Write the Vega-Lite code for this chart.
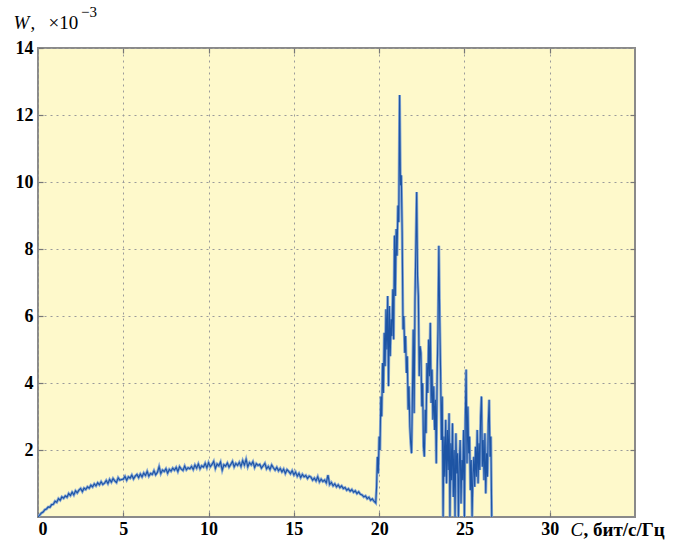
{
  "$schema": "https://vega.github.io/schema/vega-lite/v6.json",
  "width": 597,
  "height": 469,
  "autosize": {"type": "none"},
  "padding": {"left": 38, "top": 48, "right": 41, "bottom": 25},
  "background": "#ffffff",
  "title": {
    "text": "−3",
    "anchor": "start",
    "frame": "group",
    "orient": "top",
    "font": "Liberation Serif",
    "fontSize": 15,
    "fontWeight": "normal",
    "color": "#000000",
    "baseline": "alphabetic",
    "offset": 0,
    "dx": 43,
    "dy": 19
  },
  "config": {
    "view": {"stroke": "#8a8a8a", "strokeWidth": 2, "fill": "#fef9cb"},
    "axis": {
      "domain": false,
      "ticks": true,
      "tickSize": -5,
      "tickColor": "#777777",
      "tickWidth": 1.2,
      "gridColor": "#9a9a9a",
      "gridDash": [2, 4],
      "gridWidth": 1,
      "labelFont": "Liberation Serif",
      "labelFontWeight": "bold",
      "labelFontSize": 18,
      "labelColor": "#000000",
      "titleFont": "Liberation Serif",
      "titleFontSize": 19,
      "titleFontWeight": "normal",
      "titleColor": "#000000"
    }
  },
  "data": {"values": [
    {"C":0,"W":0},{"C":0.1,"W":0.06},{"C":0.2,"W":0.12},{"C":0.3,"W":0.15},{"C":0.4,"W":0.22},{"C":0.5,"W":0.24},{"C":0.6,"W":0.3},{"C":0.7,"W":0.29},{"C":0.8,"W":0.37},{"C":0.9,"W":0.38},
    {"C":1,"W":0.47},{"C":1.1,"W":0.44},{"C":1.2,"W":0.55},{"C":1.3,"W":0.5},{"C":1.4,"W":0.6},{"C":1.5,"W":0.56},{"C":1.6,"W":0.63},{"C":1.7,"W":0.59},{"C":1.8,"W":0.7},{"C":1.9,"W":0.64},
    {"C":2,"W":0.74},{"C":2.1,"W":0.66},{"C":2.2,"W":0.78},{"C":2.3,"W":0.72},{"C":2.4,"W":0.8},{"C":2.5,"W":0.85},{"C":2.6,"W":0.76},{"C":2.7,"W":0.86},{"C":2.8,"W":0.82},{"C":2.9,"W":0.9},
    {"C":3,"W":0.86},{"C":3.1,"W":0.95},{"C":3.2,"W":0.9},{"C":3.3,"W":0.99},{"C":3.4,"W":0.93},{"C":3.5,"W":1.02},{"C":3.6,"W":0.96},{"C":3.7,"W":1.05},{"C":3.8,"W":0.97},{"C":3.9,"W":1.01},
    {"C":4,"W":1.09},{"C":4.1,"W":1.0},{"C":4.2,"W":1.12},{"C":4.3,"W":1.04},{"C":4.4,"W":1.15},{"C":4.5,"W":1.08},{"C":4.6,"W":1.03},{"C":4.7,"W":1.17},{"C":4.8,"W":1.1},{"C":4.9,"W":1.12},
    {"C":5,"W":1.13},{"C":5.1,"W":1.21},{"C":5.2,"W":1.1},{"C":5.3,"W":1.2},{"C":5.4,"W":1.16},{"C":5.5,"W":1.25},{"C":5.6,"W":1.14},{"C":5.7,"W":1.22},{"C":5.8,"W":1.27},{"C":5.9,"W":1.18},
    {"C":6,"W":1.28},{"C":6.1,"W":1.2},{"C":6.2,"W":1.31},{"C":6.3,"W":1.24},{"C":6.4,"W":1.36},{"C":6.5,"W":1.22},{"C":6.6,"W":1.3},{"C":6.7,"W":1.27},{"C":6.8,"W":1.38},{"C":6.9,"W":1.26},
    {"C":7,"W":1.33},{"C":7.1,"W":1.5},{"C":7.2,"W":1.3},{"C":7.3,"W":1.4},{"C":7.4,"W":1.36},{"C":7.5,"W":1.44},{"C":7.6,"W":1.31},{"C":7.7,"W":1.42},{"C":7.8,"W":1.37},{"C":7.9,"W":1.46},
    {"C":8,"W":1.4},{"C":8.1,"W":1.48},{"C":8.2,"W":1.36},{"C":8.3,"W":1.5},{"C":8.4,"W":1.43},{"C":8.5,"W":1.39},{"C":8.6,"W":1.52},{"C":8.7,"W":1.41},{"C":8.8,"W":1.47},{"C":8.9,"W":1.44},
    {"C":9,"W":1.51},{"C":9.1,"W":1.42},{"C":9.2,"W":1.55},{"C":9.3,"W":1.46},{"C":9.4,"W":1.58},{"C":9.5,"W":1.44},{"C":9.6,"W":1.53},{"C":9.7,"W":1.49},{"C":9.8,"W":1.6},{"C":9.9,"W":1.47},
    {"C":10,"W":1.62},{"C":10.1,"W":1.5},{"C":10.2,"W":1.57},{"C":10.3,"W":1.66},{"C":10.4,"W":1.45},{"C":10.5,"W":1.58},{"C":10.6,"W":1.53},{"C":10.7,"W":1.64},{"C":10.8,"W":1.4},{"C":10.9,"W":1.56},
    {"C":11,"W":1.52},{"C":11.1,"W":1.61},{"C":11.2,"W":1.49},{"C":11.3,"W":1.57},{"C":11.4,"W":1.66},{"C":11.5,"W":1.5},{"C":11.6,"W":1.6},{"C":11.7,"W":1.54},{"C":11.8,"W":1.63},{"C":11.9,"W":1.51},
    {"C":12,"W":1.68},{"C":12.1,"W":1.55},{"C":12.2,"W":1.72},{"C":12.3,"W":1.5},{"C":12.4,"W":1.62},{"C":12.5,"W":1.56},{"C":12.6,"W":1.65},{"C":12.7,"W":1.48},{"C":12.8,"W":1.59},{"C":12.9,"W":1.54},
    {"C":13,"W":1.57},{"C":13.1,"W":1.46},{"C":13.2,"W":1.53},{"C":13.3,"W":1.6},{"C":13.4,"W":1.44},{"C":13.5,"W":1.51},{"C":13.6,"W":1.42},{"C":13.7,"W":1.55},{"C":13.8,"W":1.47},{"C":13.9,"W":1.4},
    {"C":14,"W":1.48},{"C":14.1,"W":1.38},{"C":14.2,"W":1.45},{"C":14.3,"W":1.35},{"C":14.4,"W":1.43},{"C":14.5,"W":1.3},{"C":14.6,"W":1.41},{"C":14.7,"W":1.36},{"C":14.8,"W":1.29},{"C":14.9,"W":1.38},
    {"C":15,"W":1.26},{"C":15.1,"W":1.34},{"C":15.2,"W":1.22},{"C":15.3,"W":1.3},{"C":15.4,"W":1.18},{"C":15.5,"W":1.27},{"C":15.6,"W":1.2},{"C":15.7,"W":1.24},{"C":15.8,"W":1.15},{"C":15.9,"W":1.22},
    {"C":16,"W":1.19},{"C":16.1,"W":1.1},{"C":16.2,"W":1.16},{"C":16.3,"W":1.08},{"C":16.4,"W":1.2},{"C":16.5,"W":1.05},{"C":16.6,"W":1.13},{"C":16.7,"W":1.06},{"C":16.8,"W":1.1},{"C":16.9,"W":1.02},
    {"C":17,"W":1.25},{"C":17.1,"W":0.97},{"C":17.2,"W":1.03},{"C":17.3,"W":0.93},{"C":17.4,"W":0.99},{"C":17.5,"W":0.9},{"C":17.6,"W":0.96},{"C":17.7,"W":0.88},{"C":17.8,"W":0.93},{"C":17.9,"W":0.85},
    {"C":18,"W":0.88},{"C":18.1,"W":0.8},{"C":18.2,"W":0.84},{"C":18.3,"W":0.77},{"C":18.4,"W":0.82},{"C":18.5,"W":0.74},{"C":18.6,"W":0.78},{"C":18.7,"W":0.7},{"C":18.8,"W":0.75},{"C":18.9,"W":0.68},
    {"C":19,"W":0.66},{"C":19.1,"W":0.6},{"C":19.2,"W":0.63},{"C":19.3,"W":0.55},{"C":19.4,"W":0.59},{"C":19.5,"W":0.5},{"C":19.6,"W":0.54},{"C":19.7,"W":0.47},{"C":19.8,"W":0.42},
    {"C":19.85,"W":0.9},{"C":19.9,"W":1.8},{"C":19.95,"W":1.3},{"C":20,"W":2.4},{"C":20.05,"W":2.0},{"C":20.1,"W":3.6},{"C":20.15,"W":3.0},{"C":20.2,"W":4.6},{"C":20.25,"W":3.7},
    {"C":20.3,"W":5.5},{"C":20.35,"W":4.5},{"C":20.4,"W":6.2},{"C":20.45,"W":5.0},{"C":20.5,"W":6.6},{"C":20.55,"W":3.9},{"C":20.6,"W":6.3},{"C":20.65,"W":4.8},{"C":20.7,"W":5.9},{"C":20.75,"W":5.4},
    {"C":20.8,"W":6.8},{"C":20.85,"W":5.3},{"C":20.9,"W":8.4},{"C":20.95,"W":6.6},{"C":21,"W":8.6},{"C":21.05,"W":7.8},{"C":21.1,"W":9.3},{"C":21.15,"W":8.8},{"C":21.2,"W":12.6},{"C":21.25,"W":9.9},
    {"C":21.3,"W":10.2},{"C":21.35,"W":8.5},{"C":21.4,"W":5.6},{"C":21.45,"W":6.0},{"C":21.5,"W":4.9},{"C":21.55,"W":5.4},{"C":21.6,"W":4.3},{"C":21.65,"W":4.8},{"C":21.7,"W":3.2},{"C":21.75,"W":3.9},
    {"C":21.8,"W":2.7},{"C":21.85,"W":2.2},{"C":21.9,"W":1.9},{"C":21.95,"W":3.6},{"C":22,"W":5.6},{"C":22.05,"W":3.1},{"C":22.1,"W":6.4},{"C":22.15,"W":8.0},{"C":22.2,"W":9.7},{"C":22.25,"W":7.2},
    {"C":22.3,"W":6.6},{"C":22.35,"W":4.2},{"C":22.4,"W":5.1},{"C":22.45,"W":4.9},{"C":22.5,"W":3.3},{"C":22.55,"W":4.0},{"C":22.6,"W":2.1},{"C":22.65,"W":1.8},{"C":22.7,"W":3.2},{"C":22.75,"W":2.5},
    {"C":22.8,"W":4.6},{"C":22.85,"W":3.7},{"C":22.9,"W":5.3},{"C":22.95,"W":4.2},{"C":23,"W":5.8},{"C":23.05,"W":3.4},{"C":23.1,"W":4.4},{"C":23.15,"W":2.9},{"C":23.2,"W":3.9},{"C":23.25,"W":2.6},
    {"C":23.3,"W":3.5},{"C":23.35,"W":1.6},{"C":23.4,"W":4.2},{"C":23.45,"W":5.6},{"C":23.5,"W":8.1},{"C":23.55,"W":6.0},{"C":23.6,"W":4.4},{"C":23.65,"W":2.3},{"C":23.7,"W":3.6},{"C":23.75,"W":0.0},
    {"C":23.8,"W":2.4},{"C":23.85,"W":1.2},{"C":23.9,"W":2.9},{"C":23.95,"W":1.0},{"C":24,"W":2.6},{"C":24.05,"W":1.4},{"C":24.1,"W":3.1},{"C":24.15,"W":0.0},{"C":24.2,"W":2.2},{"C":24.25,"W":1.1},
    {"C":24.3,"W":2.8},{"C":24.35,"W":0.6},{"C":24.4,"W":2.0},{"C":24.45,"W":0.0},{"C":24.5,"W":2.5},{"C":24.55,"W":1.3},{"C":24.6,"W":1.9},{"C":24.65,"W":0.0},{"C":24.7,"W":1.6},{"C":24.75,"W":2.3},
    {"C":24.8,"W":0.4},{"C":24.85,"W":1.7},{"C":24.9,"W":1.1},{"C":24.95,"W":2.6},{"C":25,"W":0.0},{"C":25.05,"W":2.9},{"C":25.1,"W":4.4},{"C":25.15,"W":1.6},{"C":25.2,"W":3.3},{"C":25.25,"W":1.9},
    {"C":25.3,"W":2.4},{"C":25.35,"W":0.8},{"C":25.4,"W":1.7},{"C":25.45,"W":0.0},{"C":25.5,"W":1.3},{"C":25.55,"W":1.8},{"C":25.6,"W":0.9},{"C":25.65,"W":2.1},{"C":25.7,"W":1.2},{"C":25.75,"W":2.6},
    {"C":25.8,"W":1.0},{"C":25.85,"W":2.2},{"C":25.9,"W":1.4},{"C":25.95,"W":3.0},{"C":26,"W":3.6},{"C":26.05,"W":1.5},{"C":26.1,"W":2.3},{"C":26.15,"W":1.1},{"C":26.2,"W":2.5},{"C":26.25,"W":0.7},
    {"C":26.3,"W":1.9},{"C":26.35,"W":1.2},{"C":26.4,"W":2.8},{"C":26.45,"W":3.5},{"C":26.5,"W":1.8},{"C":26.55,"W":2.4},{"C":26.6,"W":0.0}
  ]},
  "layer": [
    {
      "mark": {"type": "line", "color": "#86a7d4", "strokeWidth": 2.8, "clip": true},
      "encoding": {
        "x": {
          "field": "C", "type": "quantitative",
          "scale": {"domain": [0, 35], "nice": false},
          "axis": {
            "orient": "bottom",
            "values": [0, 5, 10, 15, 20, 25, 30],
            "labelFont": "Liberation Serif",
            "labelFontWeight": "bold",
            "labelFontSize": 18,
            "labelPadding": 8,
            "title": "C",
            "titleFontStyle": "italic",
            "titleAlign": "left",
            "titleBaseline": "alphabetic",
            "titleX": 532,
            "titleY": 18
          }
        },
        "y": {
          "field": "W", "type": "quantitative",
          "scale": {"domain": [0, 14], "nice": false},
          "axis": {
            "orient": "left",
            "values": [2, 4, 6, 8, 10, 12, 14],
            "labelFont": "Liberation Serif",
            "labelFontWeight": "bold",
            "labelFontSize": 18,
            "labelPadding": 10,
            "title": "W",
            "titleFontStyle": "italic",
            "titleAngle": 0,
            "titleAlign": "left",
            "titleBaseline": "alphabetic",
            "titleX": -25,
            "titleY": -20
          }
        }
      }
    },
    {
      "mark": {"type": "line", "color": "#1d54a4", "strokeWidth": 1.1, "clip": true},
      "encoding": {
        "x": {
          "field": "C", "type": "quantitative",
          "axis": {
            "orient": "top",
            "values": [5, 10, 15, 20, 25, 30],
            "labels": false,
            "grid": false,
            "title": ", бит/с/Гц",
            "titleFontWeight": "bold",
            "titleAlign": "left",
            "titleBaseline": "alphabetic",
            "titleX": 545,
            "titleY": 487
          }
        },
        "y": {
          "field": "W", "type": "quantitative",
          "axis": {
            "orient": "right",
            "values": [2, 4, 6, 8, 10, 12],
            "labels": false,
            "grid": false,
            "title": ",\u2002\u2009×10",
            "titleAngle": 0,
            "titleAlign": "left",
            "titleBaseline": "alphabetic",
            "titleX": -605,
            "titleY": -20
          }
        }
      }
    }
  ],
  "resolve": {"axis": {"x": "independent", "y": "independent"}}
}
